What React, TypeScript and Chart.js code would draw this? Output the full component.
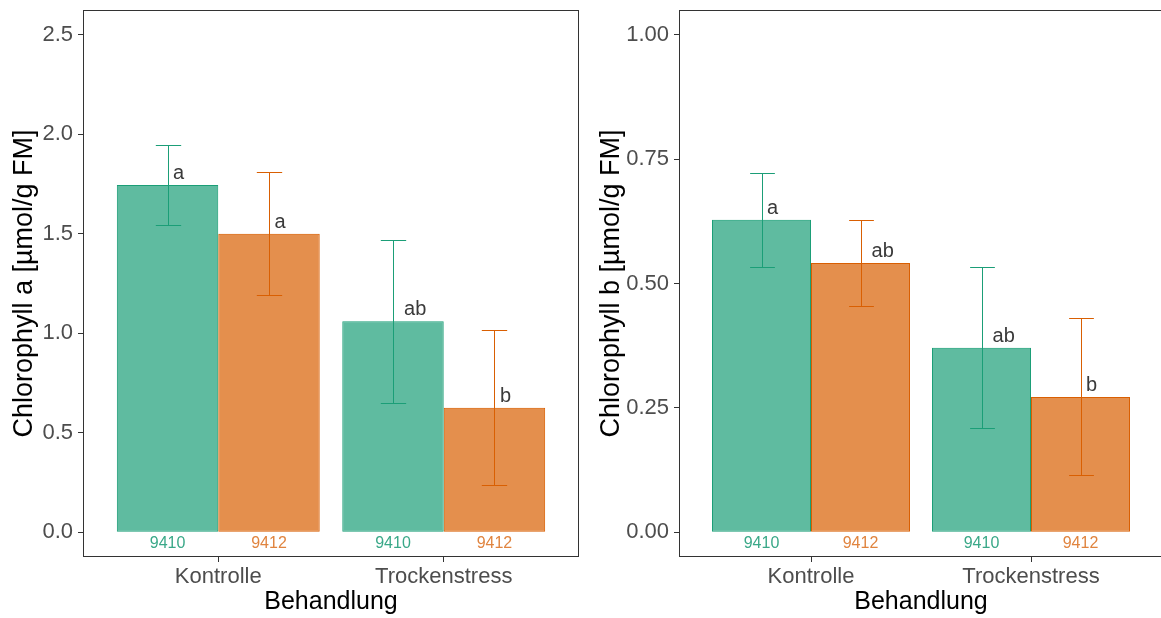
import React, { useEffect, useRef } from 'react';
import { Chart, registerables } from 'chart.js';

Chart.register(...registerables);

// Treatments (x groups) and genotypes (bars within each group)
const categories = ['Kontrolle', 'Trockenstress'];
const genotypes = ['9410', '9412'];

// Chlorophyll a [µmol/g FM]: means, standard deviations, significance letters
const chlA9410 = [1.745, 1.06];
const chlA9410Sd = [0.2, 0.41];
const chlA9410Letters = ['a', 'ab'];
const chlA9412 = [1.5, 0.625];
const chlA9412Sd = [0.31, 0.39];
const chlA9412Letters = ['a', 'b'];
const chlATicks = [0, 0.5, 1.0, 1.5, 2.0, 2.5];

// Chlorophyll b [µmol/g FM]
const chlB9410 = [0.628, 0.371];
const chlB9410Sd = [0.095, 0.162];
const chlB9410Letters = ['a', 'ab'];
const chlB9412 = [0.541, 0.272];
const chlB9412Sd = [0.086, 0.158];
const chlB9412Letters = ['ab', 'b'];
const chlBTicks = [0, 0.25, 0.5, 0.75, 1.0];

const FONT = "'Liberation Sans', Arial, sans-serif";
const LINE_COLORS = ['#1b9e77', '#d95f02'];
const FILL_COLORS = ['rgba(27,158,119,0.7)', 'rgba(217,95,2,0.7)'];
const LABEL_COLORS = ['#3aa888', '#e0843f'];

// Error bars, significance letters, genotype labels and the panel frame
const panelDecor = {
  id: 'panelDecor',
  afterDatasetsDraw(chart: any) {
    const ctx = chart.ctx;
    const { left, right, top, bottom } = chart.chartArea;
    const ys = chart.scales.y;
    ctx.save();
    chart.data.datasets.forEach((ds: any, di: number) => {
      const meta = chart.getDatasetMeta(di);
      meta.data.forEach((bar: any, i: number) => {
        const v = ds.data[i].y;
        const sd = ds.sd[i];
        const x = Math.round(bar.x) + 0.5;
        const half = bar.width * 0.125;
        const yHi = Math.round(ys.getPixelForValue(v + sd)) + 0.5;
        const yLo = Math.round(ys.getPixelForValue(v - sd)) + 0.5;
        ctx.strokeStyle = ds.borderColor;
        ctx.lineWidth = 1;
        ctx.beginPath();
        ctx.moveTo(x, yHi);
        ctx.lineTo(x, yLo);
        ctx.moveTo(x - half, yHi);
        ctx.lineTo(x + half, yHi);
        ctx.moveTo(x - half, yLo);
        ctx.lineTo(x + half, yLo);
        ctx.stroke();

        // significance letter, left-aligned just right of the error bar
        const letter = ds.letters[i];
        ctx.font = `20px ${FONT}`;
        ctx.fillStyle = '#3a3a3a';
        ctx.textAlign = 'left';
        ctx.textBaseline = 'alphabetic';
        const w = ctx.measureText(letter).width;
        ctx.fillText(letter, bar.x + w * 0.5, bar.y - 6);

        // genotype label under the bar
        ctx.font = `16px ${FONT}`;
        ctx.fillStyle = ds.labelColor;
        ctx.textAlign = 'center';
        ctx.textBaseline = 'middle';
        ctx.fillText(ds.label, bar.x, bottom - 13);
      });
    });
    ctx.strokeStyle = '#333333';
    ctx.lineWidth = 1;
    const l = Math.round(left) + 0.5;
    const t = Math.round(top) + 0.5;
    const r = Math.round(right) - 0.5;
    const b = Math.round(bottom) - 0.5;
    ctx.strokeRect(l, t, r - l, b - t);
    ctx.restore();
  },
};

type PanelSpec = {
  means: number[][];
  sds: number[][];
  letters: string[][];
  ticks: number[];
  decimals: number;
  yMin: number;
  yMax: number;
  yTitle: string;
  yWidth: number;
  yTitlePad: number;
  rightPad: number;
};

function buildChart(canvas: HTMLCanvasElement, spec: PanelSpec) {
  const datasets = genotypes.map((g, gi) => ({
    label: g,
    data: categories.map((_, ci) => ({ x: ci + 1, y: spec.means[gi][ci] })),
    sd: spec.sds[gi],
    letters: spec.letters[gi],
    labelColor: LABEL_COLORS[gi],
    backgroundColor: FILL_COLORS[gi],
    borderColor: LINE_COLORS[gi],
    borderWidth: 1,
    borderSkipped: false,
    categoryPercentage: 0.9,
    barPercentage: 1.0,
  }));

  return new Chart(canvas, {
    type: 'bar',
    data: { datasets } as any,
    plugins: [panelDecor],
    options: {
      responsive: false,
      animation: false,
      devicePixelRatio: 1,
      layout: { padding: { top: 10, left: 0, right: spec.rightPad, bottom: 0 } },
      plugins: { legend: { display: false }, tooltip: { enabled: false } },
      scales: {
        x: {
          type: 'linear',
          min: 0.4,
          max: 2.6,
          offset: false,
          grid: {
            display: true,
            offset: false,
            drawOnChartArea: false,
            drawTicks: true,
            tickLength: 5,
            color: '#333333',
          },
          border: { display: false },
          afterBuildTicks: (scale: any) => {
            scale.ticks = categories.map((_, i) => ({ value: i + 1 }));
          },
          afterFit: (scale: any) => {
            scale.height = 61;
            scale.paddingLeft = 0;
            scale.paddingRight = 0;
          },
          ticks: {
            autoSkip: false,
            maxRotation: 0,
            padding: 2,
            color: '#4d4d4d',
            font: { family: FONT, size: 22 },
            callback: (v: any) => categories[Math.round(Number(v)) - 1] ?? '',
          },
          title: {
            display: true,
            text: 'Behandlung',
            color: '#000000',
            font: { family: FONT, size: 25 },
            padding: { top: 0, bottom: 1 },
          },
        },
        y: {
          type: 'linear',
          min: spec.yMin,
          max: spec.yMax,
          grid: { display: true, drawOnChartArea: false, drawTicks: true, tickLength: 5, color: '#333333' },
          border: { display: false },
          afterBuildTicks: (scale: any) => {
            scale.ticks = spec.ticks.map((v) => ({ value: v }));
          },
          afterFit: (scale: any) => {
            scale.width = spec.yWidth;
            scale.paddingTop = 0;
            scale.paddingBottom = 0;
          },
          ticks: {
            padding: 5,
            color: '#4d4d4d',
            font: { family: FONT, size: 22 },
            callback: (v: any) => Number(v).toFixed(spec.decimals),
          },
          title: {
            display: true,
            text: spec.yTitle,
            color: '#000000',
            font: { family: FONT, size: 27 },
            padding: { top: spec.yTitlePad, bottom: 0 },
          },
        },
      },
    } as any,
  });
}

export default function App() {
  const leftRef = useRef<HTMLCanvasElement>(null);
  const rightRef = useRef<HTMLCanvasElement>(null);

  useEffect(() => {
    const charts: Chart[] = [];
    if (leftRef.current) {
      charts.push(
        buildChart(leftRef.current, {
          means: [chlA9410, chlA9412],
          sds: [chlA9410Sd, chlA9412Sd],
          letters: [chlA9410Letters, chlA9412Letters],
          ticks: chlATicks,
          decimals: 1,
          yMin: -0.125,
          yMax: 2.625,
          yTitle: 'Chlorophyll a [µmol/g FM]',
          yWidth: 83,
          yTitlePad: 8,
          rightPad: 11,
        })
      );
    }
    if (rightRef.current) {
      charts.push(
        buildChart(rightRef.current, {
          means: [chlB9410, chlB9412],
          sds: [chlB9410Sd, chlB9412Sd],
          letters: [chlB9410Letters, chlB9412Letters],
          ticks: chlBTicks,
          decimals: 2,
          yMin: -0.05,
          yMax: 1.05,
          yTitle: 'Chlorophyll b [µmol/g FM]',
          yWidth: 90,
          yTitlePad: 6,
          rightPad: 3,
        })
      );
    }
    return () => charts.forEach((c) => c.destroy());
  }, []);

  return (
    <div
      style={{
        position: 'absolute',
        left: 0,
        top: 0,
        width: 1161,
        height: 618,
        overflow: 'hidden',
        background: '#ffffff',
      }}
    >
      <canvas ref={leftRef} width={590} height={618} style={{ position: 'absolute', left: 0, top: 0 }} />
      <canvas ref={rightRef} width={577} height={618} style={{ position: 'absolute', left: 589, top: 0 }} />
    </div>
  );
}
